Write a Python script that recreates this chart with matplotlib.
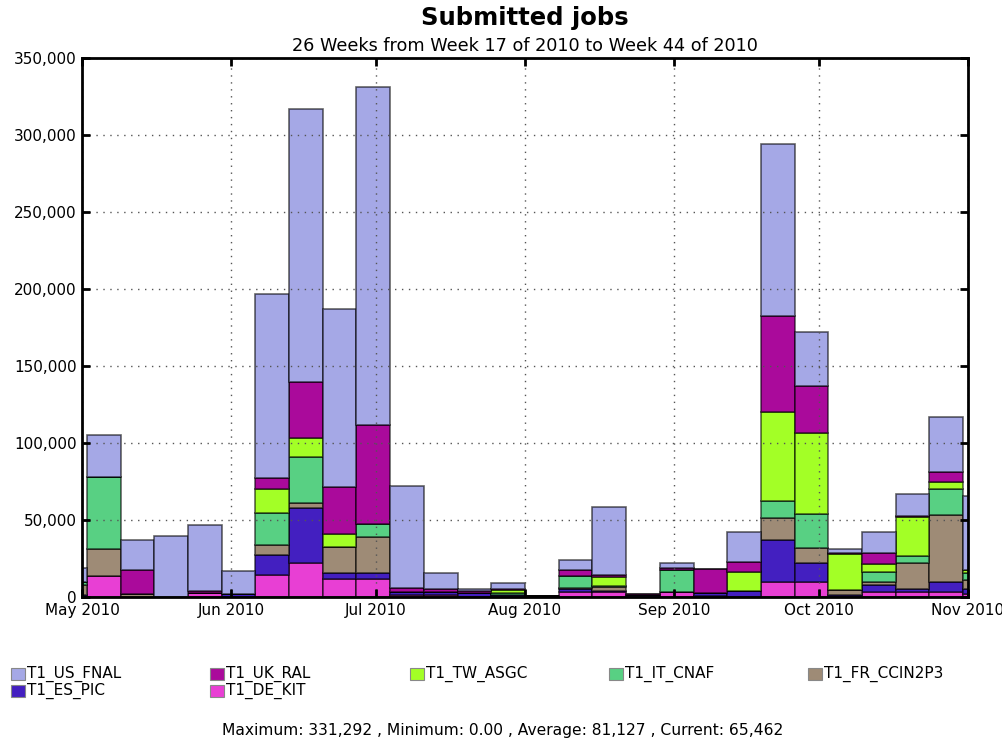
import datetime as dt
import matplotlib
matplotlib.use("Agg")
import matplotlib.pyplot as plt
import matplotlib.dates as mdates
from matplotlib.patches import Rectangle
from matplotlib.ticker import FuncFormatter

# ---- data ----
week_starts = ["2010-04-25", "2010-05-02", "2010-05-09", "2010-05-16", "2010-05-23",
               "2010-05-30", "2010-06-06", "2010-06-13", "2010-06-20", "2010-06-27",
               "2010-07-04", "2010-07-11", "2010-07-18", "2010-07-25", "2010-08-01",
               "2010-08-08", "2010-08-15", "2010-08-22", "2010-08-29", "2010-09-05",
               "2010-09-12", "2010-09-19", "2010-09-26", "2010-10-03", "2010-10-10",
               "2010-10-17", "2010-10-24", "2010-10-31"]

T1_DE_KIT = [0, 13400, 0, 0, 2600, 0, 14100, 22300, 11900, 11900,
             1500, 1000, 300, 0, 0, 3000, 3200, 0, 3400, 900,
             0, 9500, 9900, 0, 3000, 3200, 3200, 2000]
T1_ES_PIC = [1100, 0, 0, 0, 0, 2000, 13200, 35300, 3900, 3900,
             1500, 2200, 2500, 1400, 500, 2300, 1000, 1000, 0, 1500,
             3700, 27700, 11900, 1000, 4700, 1900, 6700, 3000]
T1_FR_CCIN2P3 = [6500, 17700, 2000, 0, 0, 0, 6500, 3600, 16500, 23000,
                 0, 0, 0, 0, 0, 700, 2200, 0, 0, 0,
                 0, 13900, 9700, 3500, 1900, 17300, 43300, 6300]
T1_IT_CNAF = [2000, 46500, 0, 0, 0, 0, 20600, 29900, 0, 8400,
              0, 0, 0, 1000, 0, 7600, 900, 0, 14000, 0,
              0, 11400, 22100, 0, 6900, 4100, 16700, 4500]
T1_TW_ASGC = [0, 0, 0, 0, 0, 0, 15600, 12300, 8600, 300,
              0, 0, 0, 2200, 0, 0, 5600, 0, 0, 0,
              12300, 57800, 53000, 23600, 5200, 25300, 4900, 2000]
T1_UK_RAL = [0, 0, 15300, 0, 1100, 0, 7100, 36000, 30700, 64500,
             2600, 2200, 1000, 800, 0, 3900, 1300, 700, 1500, 15800,
             6500, 62300, 30300, 500, 7100, 600, 6500, 0]
T1_US_FNAL = [9100, 27600, 20000, 39700, 43000, 14900, 119600, 177500, 115400, 219300,
              66600, 10400, 1400, 3500, 0, 6700, 44200, 0, 3200, 0,
              19500, 111500, 35300, 2800, 13200, 14700, 35300, 47600]

site_names = ["T1_DE_KIT", "T1_ES_PIC", "T1_FR_CCIN2P3", "T1_IT_CNAF",
              "T1_TW_ASGC", "T1_UK_RAL", "T1_US_FNAL"]
site_values = [T1_DE_KIT, T1_ES_PIC, T1_FR_CCIN2P3, T1_IT_CNAF,
               T1_TW_ASGC, T1_UK_RAL, T1_US_FNAL]
site_colors = ["#e83fd4", "#431fc0", "#9e8b76", "#58d083",
               "#a3ff26", "#aa0a9b", "#a5a8e6"]

legend_order = ["T1_US_FNAL", "T1_UK_RAL", "T1_TW_ASGC", "T1_IT_CNAF",
                "T1_FR_CCIN2P3", "T1_ES_PIC", "T1_DE_KIT"]

title = "Submitted jobs"
subtitle = "26 Weeks from Week 17 of 2010 to Week 44 of 2010"
stats = "Maximum: 331,292 , Minimum: 0.00 , Average: 81,127 , Current: 65,462"

# ---- plot ----
fig = plt.figure(figsize=(10.03, 7.40), dpi=100)
ax = fig.add_axes([82 / 1003, 1 - 597 / 740, (968 - 82) / 1003, (597 - 58) / 740])

x = mdates.date2num([dt.datetime.strptime(d, "%Y-%m-%d") for d in week_starts])
bottom = [0.0] * len(x)
for name, vals, col in zip(site_names, site_values, site_colors):
    ax.bar(x, vals, width=7, bottom=bottom, align="edge", color=col,
           edgecolor=(0, 0, 0, 0.6), linewidth=1.2, label=name)
    bottom = [b + v for b, v in zip(bottom, vals)]

ax.set_xlim(mdates.date2num(dt.datetime(2010, 5, 1)), mdates.date2num(dt.datetime(2010, 11, 1)))
ax.set_ylim(0, 350000)
ax.xaxis.set_major_locator(mdates.MonthLocator())
ax.xaxis.set_major_formatter(mdates.DateFormatter("%b %Y"))
ax.yaxis.set_major_locator(matplotlib.ticker.MultipleLocator(50000))
ax.yaxis.set_major_formatter(FuncFormatter(lambda v, p: f"{int(v):,}"))

ax.set_axisbelow(False)
ax.grid(True, color="#555555", linestyle=(0, (1, 4)), linewidth=1.0)
ax.tick_params(direction="in", length=6, width=2, labelsize=11, top=True, right=True,
               color="black", pad=4)
for s in ax.spines.values():
    s.set_linewidth(2)
    s.set_zorder(5)

axc = (82 + 968) / 2 / 1003
fig.text(axc, 1 - 18 / 740, title, ha="center", va="center", fontsize=17.5, fontweight="bold")
fig.text(axc, 1 - 46 / 740, subtitle, ha="center", va="center", fontsize=12.7)

# legend (manual layout, 5 columns)
color_of = dict(zip(site_names, site_colors))
for i, name in enumerate(legend_order):
    row, col = divmod(i, 5)
    x0 = 11 + col * 199.3
    yc = 674 + row * 16.5
    fig.add_artist(Rectangle((x0 / 1003, 1 - (yc + 6) / 740), 14 / 1003, 12 / 740,
                             transform=fig.transFigure, facecolor=color_of[name],
                             edgecolor="#888888", linewidth=0.8))
    fig.text((x0 + 16) / 1003, 1 - yc / 740, name, ha="left", va="center", fontsize=11)

fig.text(503 / 1003, 1 - 731 / 740, stats, ha="center", va="center", fontsize=11.2)

fig.savefig("out.png", dpi=100)
